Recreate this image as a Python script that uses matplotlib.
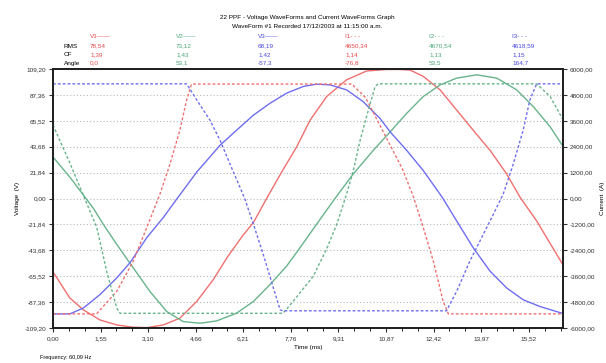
import numpy as np
import matplotlib
matplotlib.use("Agg")
import matplotlib.pyplot as plt
from matplotlib.ticker import FixedLocator, FuncFormatter

plt.rcParams['font.family'] = ['Liberation Sans', 'DejaVu Sans']

# voltage waveforms (V)
t_v1 = [0, 0.55, 0.99, 1.53, 2.08, 2.6, 3.06, 3.6, 4.14, 4.69, 5.23, 5.7, 6.2, 6.54, 6.97,
        7.46, 7.95, 8.39, 8.93, 9.58, 10.23, 10.89, 11.3, 11.65, 12.08, 12.63, 13.17, 13.71,
        14.26, 14.8, 15.24, 15.78, 16.64]
v1 = [-61.9, -83.9, -93.9, -102.4, -106.6, -108.5, -108.9, -106.6, -100.9, -86.8, -68.4, -49,
      -31, -20.2, 0, 22.3, 43.5, 66.1, 86, 100.1, 107.5, 108.8, 108.8, 108.3, 103, 91.6, 74.6,
      57.6, 40.6, 20.8, 1, -18.9, -56]

t_v2 = [0, 0.55, 0.99, 1.31, 1.64, 2.08, 2.62, 3.16, 3.71, 4.25, 4.8, 5.34, 5.99, 6.54, 7.08,
        7.62, 8.06, 8.6, 9.2, 9.8, 10.45, 11.0, 11.54, 12.08, 12.63, 13.17, 13.82, 14.48,
        15.13, 15.67, 16.22, 16.64]
v2 = [35, 18, 3, -8, -21.7, -38.7, -58.5, -78.3, -95.3, -103.8, -105.2, -103.2, -96.7, -86.8,
      -72.6, -57.1, -41.5, -21.7, 0, 20.8, 40.6, 56.2, 71.8, 86, 95.8, 101.5, 104.3, 101.5,
      91.6, 77.5, 60.5, 44]

t_v3 = [0, 0.55, 0.99, 1.53, 2.08, 2.51, 3.06, 3.6, 4.04, 4.69, 5.45, 5.99, 6.54, 7.08, 7.62,
        8.17, 8.6, 9.04, 9.58, 10.12, 10.67, 11.0, 11.54, 12.08, 12.7, 13.17, 13.71, 14.26,
        14.8, 15.34, 15.89, 16.64]
v3 = [-97.3, -97.3, -92.4, -81.1, -67, -54.2, -33, -16, -0.4, 22.3, 44.9, 57.6, 70.3, 80.3,
      88.8, 94.5, 96.4, 95.8, 91.6, 81.7, 67.5, 56.2, 40.6, 23.6, 1, -18.9, -41.5, -61.3,
      -75.4, -85.4, -91.1, -97]

# current waveforms (A)
t_i1 = [0, 1.42, 2.08, 2.62, 3.06, 3.49, 3.82, 4.14, 4.36, 4.52, 9.75, 10.2, 10.6, 11.0,
        11.4, 11.75, 12.08, 12.41, 12.73, 12.9, 16.64]
i1 = [-5346, -5346, -4302, -2901, -1346, 209, 1610, 3165, 4566, 5302, 5302, 4670, 3571, 2473,
      1374, 110, -1346, -2901, -4769, -5346, -5346]

t_i2 = [0, 0.5, 1.04, 1.43, 1.75, 2.08, 2.19, 7.5, 7.79, 8.49, 8.92, 9.26, 9.58, 9.8, 10.02,
        10.29, 10.51, 10.61, 15.78, 16.22, 16.64]
i2 = [3401, 1813, -22, -1346, -3368, -5077, -5319, -5319, -4846, -3604, -2357, -1192, 209,
      1297, 2698, 4099, 5192, 5313, 5313, 4725, 3650]

t_i3 = [0, 4.36, 4.69, 5.12, 5.45, 5.77, 6.1, 6.26, 6.54, 6.86, 7.19, 7.41, 7.5, 12.84, 13.17,
        13.6, 14.04, 14.37, 14.69, 15.02, 15.34, 15.56, 15.78, 16.64]
i3 = [5313, 5313, 4566, 3632, 2698, 1610, 522, -22, -1192, -2593, -4143, -5159, -5203, -5203,
      -4302, -2901, -1659, -725, 209, 1610, 3165, 4566, 5313, 5313]

# table values
cols = ['V1\u2014\u2014', 'V2\u2014\u2014', 'V3\u2014\u2014', 'I1- - -', 'I2- - -', 'I3- - -']
rms = ['78,54', '73,12', '68,19', '4650,34', '4670,54', '4618,59']
cf = ['1,39', '1,43', '1,42', '1,14', '1,13', '1,15']
angle = ['0,0', '53,1', '-57,3', '-76,8', '53,5', '164,7']

red, green, blue = '#f07070', '#68b48c', '#6e6ef0'
txt_colors = ['#e84848', '#48a878', '#4848e0'] * 2
line_colors = [red, green, blue]

W, H = 606, 363
fig = plt.figure(figsize=(W / 100, H / 100), dpi=100)
ax = fig.add_axes([53 / W, 1 - 328 / H, (563 - 53) / W, (328 - 69) / H])
ax2 = ax.twinx()

fs = 4.6
for tt, vv, c in zip([t_v1, t_v2, t_v3], [v1, v2, v3], line_colors):
    ax.plot(tt, vv, color=c, lw=1.0)
for tt, ii, c in zip([t_i1, t_i2, t_i3], [i1, i2, i3], line_colors):
    ax2.plot(tt, ii, color=c, lw=1.0, ls=(0, (2, 1.5)))

ax.set_xlim(0, 16.64)
ax.set_ylim(-109.2, 109.2)
ax2.set_ylim(-6000, 6000)


def comma(v, p):
    s = f'{v:.2f}'.replace('.', ',')
    return '0,00' if s == '-0,00' else s


ax.set_yticks([-109.2 + 21.84 * k for k in range(11)])
ax.yaxis.set_major_formatter(FuncFormatter(comma))
ax2.set_yticks([-6000 + 1200 * k for k in range(11)])
ax2.yaxis.set_major_formatter(FuncFormatter(comma))

step = 1.5524
ax.set_xticks([step * k for k in range(11)])
ax.xaxis.set_major_formatter(FuncFormatter(comma))
ax.xaxis.set_minor_locator(FixedLocator([step / 3 * k for k in range(33)]))

ax.grid(axis='y', color='#b8b8b8', ls=(0, (1, 2)), lw=0.8)
ax.set_axisbelow(True)

for a in (ax, ax2):
    for s in a.spines.values():
        s.set_linewidth(1.3)
        s.set_color('#202020')
    a.tick_params(labelsize=fs, length=3, width=0.8, pad=2, colors='#303030')
ax.tick_params(axis='x', which='major', pad=3)
ax.tick_params(axis='x', which='minor', length=2, width=0.6)

ax.set_xlabel('Time (ms)', fontsize=fs, labelpad=3)
ax.set_ylabel('Voltage  (V)', fontsize=fs, labelpad=3)
ax2.set_ylabel('Current  (A)', fontsize=fs, labelpad=3, rotation=90)

# header text
fig.text(307 / W, 1 - 17 / H, '22 PPF - Voltage WaveForms and Current WaveForms Graph',
         ha='center', va='center', fontsize=fs)
fig.text(307 / W, 1 - 27 / H, 'WaveForm #1 Recorded 17/12/2003 at 11:15:00 a.m.',
         ha='center', va='center', fontsize=fs)

col_x = [90, 176, 258, 345, 429, 512]
rows_y = [37, 46, 54.5, 63]
for lab, y in zip(['RMS', 'CF', 'Angle'], rows_y[1:]):
    fig.text(64 / W, 1 - y / H, lab, ha='left', va='center', fontsize=fs)
for k in range(6):
    x = col_x[k] / W
    for val, y in zip([cols[k], rms[k], cf[k], angle[k]], rows_y):
        fig.text(x, 1 - y / H, val, ha='left', va='center', fontsize=fs, color=txt_colors[k])

fig.text(40 / W, 1 - 358 / H, 'Frequency: 60,09 Hz', ha='left', va='center', fontsize=4)

fig.savefig('out.png', dpi=100, facecolor='white')
